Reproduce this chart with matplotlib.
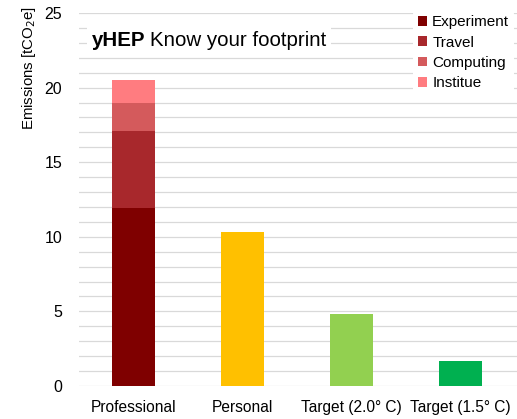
import matplotlib
matplotlib.use('Agg')
import matplotlib.pyplot as plt
from matplotlib.patches import Patch

plt.rcParams['font.family'] = ['Liberation Sans', 'DejaVu Sans']

categories = ['Professional', 'Personal', 'Target (2.0° C)', 'Target (1.5° C)']
# professional footprint split into components
prof_labels = ['Experiment', 'Travel', 'Computing', 'Institue']
prof_values = [11.9, 5.2, 1.9, 1.5]
prof_colors = ['#7f0000', '#a8282c', '#d45a5c', '#ff7c80']
other_values = [10.3, 4.8, 1.7]
other_colors = ['#ffc000', '#92d050', '#00b050']

fig = plt.figure(figsize=(5.17, 4.19), dpi=100)
ax = fig.add_axes([79/517, 33/419, 438/517, 373/419])

width = 0.4
bottom = 0
for val, col, lab in zip(prof_values, prof_colors, prof_labels):
    ax.bar(0, val, width, bottom=bottom, color=col, label=lab, zorder=2)
    bottom += val
ax.bar(range(1, 4), other_values, width, color=other_colors, zorder=2)

ax.set_xlim(-0.5, 3.52)
ax.set_ylim(0, 25)
ax.set_yticks(range(0, 26, 5))
ax.set_yticks(range(0, 26), minor=True)
ax.grid(axis='y', which='both', color='#d9d9d9', linewidth=0.9, zorder=0)
ax.set_axisbelow(True)
ax.tick_params(which='both', length=0)
ax.tick_params(axis='y', labelsize=11.5, pad=12)
ax.tick_params(axis='x', labelsize=11.2, pad=10)
ax.set_xticks(range(4))
ax.set_xticklabels(categories)
for s in ax.spines.values():
    s.set_visible(False)

fig.text(29/517, 1 - 68/419, 'Emissions [tCO$_2$e]', rotation=90,
         fontsize=10.8, ha='center', va='center')

title_bold = ax.text(0.03, 0.925, 'yHEP', transform=ax.transAxes,
                     fontsize=14.8, fontweight='bold', va='center', ha='left',
                     bbox=dict(facecolor='white', edgecolor='none', pad=4), zorder=3)
fig.canvas.draw()
bb = title_bold.get_window_extent()
x_next = ax.transAxes.inverted().transform((bb.x1 + 4, 0))[0]
ax.text(x_next, 0.925, 'Know your footprint', transform=ax.transAxes,
        fontsize=14.8, va='center', ha='left',
        bbox=dict(facecolor='white', edgecolor='none', pad=4), zorder=3)

handles = [Patch(facecolor=c, label=l) for c, l in zip(prof_colors, prof_labels)]
leg = ax.legend(handles=handles, loc='upper right', bbox_to_anchor=(1.01, 1.027),
                fontsize=11, frameon=True, handlelength=0.6, handleheight=0.6,
                handletextpad=0.35, labelspacing=0.42, borderpad=0.3)
leg.get_frame().set_edgecolor('none')
leg.get_frame().set_facecolor('white')
leg.get_frame().set_alpha(1)

fig.savefig('out.png', dpi=100)
